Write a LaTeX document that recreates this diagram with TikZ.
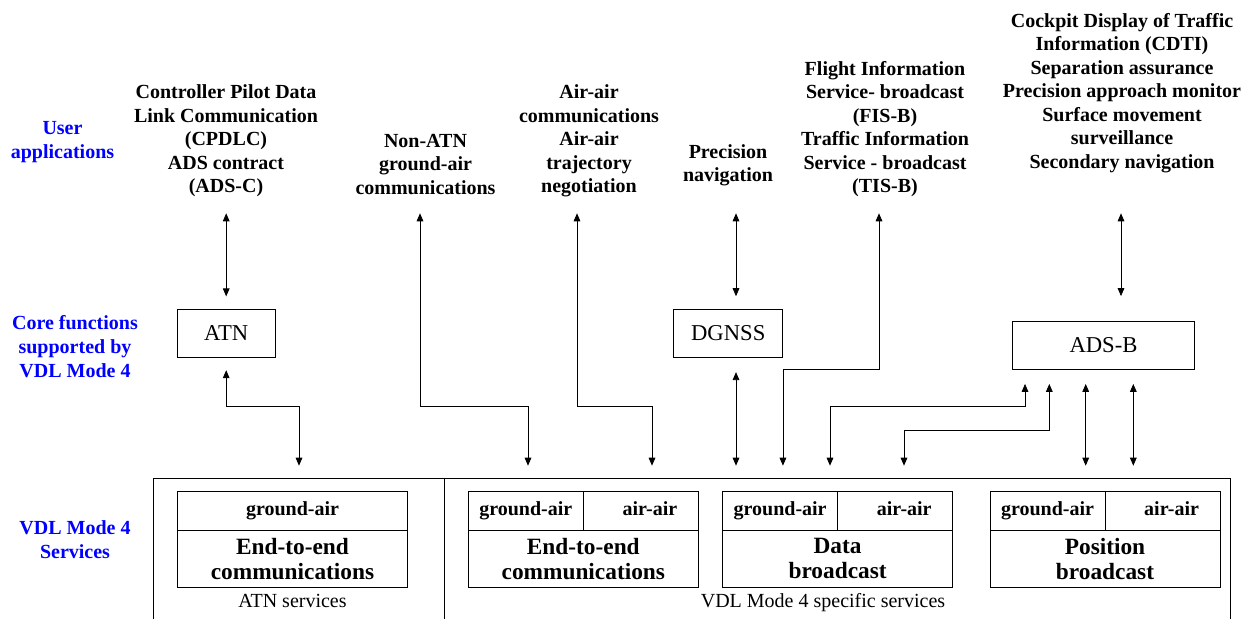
\documentclass[tikz,border=0pt]{standalone}
\usepackage{fontspec}
\setmainfont{Liberation Serif}
\usetikzlibrary{arrows.meta}
\begin{document}
\begin{tikzpicture}[x=0.75pt, y=-0.75pt,
  hd/.style={font=\fontsize{15}{17.6}\selectfont\bfseries, align=center, inner sep=0},
  side/.style={hd, text=blue, font=\fontsize{15}{18}\selectfont\bfseries},
  core/.style={draw, line width=0.6pt, font=\fontsize{17}{20}\selectfont, minimum height=36pt, inner sep=0},
  cell/.style={draw, line width=0.6pt, font=\fontsize{15}{17.6}\selectfont\bfseries, minimum height=28.9pt, minimum width=86.25pt, inner sep=0, text height=10.5pt, text depth=3.5pt},
  rcell/.style={cell, text width=54.75pt, align=right},
  body/.style={draw, line width=0.6pt, font=\fontsize{17.5}{19}\selectfont\bfseries, align=center, minimum height=43.1pt, minimum width=172.5pt, inner sep=0},
  svc/.style={font=\fontsize{15}{18}\selectfont, inner sep=0, text height=10.5pt, text depth=3.5pt},
  dbl/.style={line width=0.6pt, {Triangle[length=6pt,width=5pt]}-{Triangle[length=6pt,width=5pt]}}]
\useasboundingbox (0,0) rectangle (1244,619);

\node[side] (user) at (62.5,142) {User\\applications};
\node[side] (corefn) at (75,347) {Core functions\\supported by\\VDL Mode 4};
\node[side] (vdlsvc) at (75,540) {VDL Mode 4\\Services};

\node[hd] (cpdlc) at (226,141) {Controller Pilot Data\\Link Communication\\(CPDLC)\\ADS contract\\(ADS-C)};
\node[hd] (nonatn) at (425.5,164.5) {Non-ATN\\ground-air\\communications};
\node[hd] (airair) at (589,141) {Air-air\\communications\\Air-air\\trajectory\\negotiation};
\node[hd] (precnav) at (728,165) {Precision\\navigation};
\node[hd] (fisb) at (885,129) {Flight Information\\Service- broadcast\\(FIS-B)\\Traffic Information\\Service - broadcast\\(TIS-B)};
\node[hd] (cdti) at (1122,93) {Cockpit Display of Traffic\\Information (CDTI)\\Separation assurance\\Precision approach monitor\\Surface movement\\surveillance\\Secondary navigation};

\node[core, minimum width=73.3pt] (atn) at (226.2,333.5) {ATN};
\node[core, minimum width=81.5pt] (dgnss) at (728.2,333.3) {DGNSS};
\node[core, minimum width=136.2pt] (adsb) at (1103.5,345.5) {ADS-B};

\draw[line width=0.6pt] (153,619) -- (153,478.5) -- (1230,478.5) -- (1230,619);
\draw[line width=0.6pt] (444,478.5) -- (444,619);

\node[cell, minimum width=172.5pt] (gaA) at (292.5,510.75) {ground-air};
\node[body] (eeA) at (292.5,558.75) {End-to-end\\communications};
\node[cell] (gaB) at (525.8,510.75) {ground-air};
\node[rcell] (aaB) at (640.8,510.75) {air-air};
\node[body] (eeB) at (583.3,558.75) {End-to-end\\communications};
\node[cell] (gaC) at (780.1,510.75) {ground-air};
\node[rcell] (aaC) at (895.1,510.75) {air-air};
\node[body] (dbC) at (837.6,558.75) {Data\\broadcast};
\node[cell] (gaD) at (1047.5,510.75) {ground-air};
\node[rcell] (aaD) at (1162.5,510.75) {air-air};
\node[body] (pbD) at (1105,558.75) {Position\\broadcast};

\node[svc] (atnsvc) at (292.5,603) {ATN services};
\node[svc] (vdlspec) at (823,603) {VDL Mode 4 specific services};

\coordinate (top) at (0,213.3);
\coordinate (rowA) at (0,406);
\coordinate (rowB) at (0,430);
\coordinate (rowF) at (0,369.5);
\coordinate (bot) at (0,465.7);
\coordinate (u2) at (420,213.3);
\coordinate (u3) at (577,213.3);
\coordinate (u4) at (736,213.3);
\coordinate (u5) at (879,213.3);
\coordinate (u6) at (1121,213.3);
\coordinate (in1) at (299,465.7);
\coordinate (in2) at (528,465.7);
\coordinate (in3) at (652,465.7);
\coordinate (in6) at (830,465.7);
\coordinate (in7) at (904,465.7);
\coordinate (xa) at (1025,0);
\coordinate (xb) at (1049.3,0);
\coordinate (xc) at (1085.7,0);
\coordinate (xd) at (1133.3,0);

\draw[dbl, shorten >=9.5pt] (atn.north |- top) -- (atn.north);
\draw[dbl, shorten <=9.2pt] (atn.south) -- (atn.south |- rowA) -| (in1);
\draw[dbl] (u2) -- (u2 |- rowA) -| (in2);
\draw[dbl] (u3) -- (u3 |- rowA) -| (in3);
\draw[dbl, shorten >=9.5pt] (u4) -- (u4 |- dgnss.north);
\draw[dbl, shorten <=10.8pt] (u4 |- dgnss.south) -- (u4 |- bot);
\draw[dbl] (u5) -- (u5 |- rowF) -| (dgnss.east |- bot);
\draw[dbl, shorten >=18.75pt] (u6) -- (u6 |- adsb.north);
\draw[dbl, shorten <=10.5pt] (adsb.south -| xa) -- (xa |- rowA) -| (in6);
\draw[dbl, shorten <=10.5pt] (adsb.south -| xb) -- (xb |- rowB) -| (in7);
\draw[dbl, shorten <=10.5pt] (adsb.south -| xc) -- (xc |- bot);
\draw[dbl, shorten <=10.5pt] (adsb.south -| xd) -- (xd |- bot);
\end{tikzpicture}
\end{document}
